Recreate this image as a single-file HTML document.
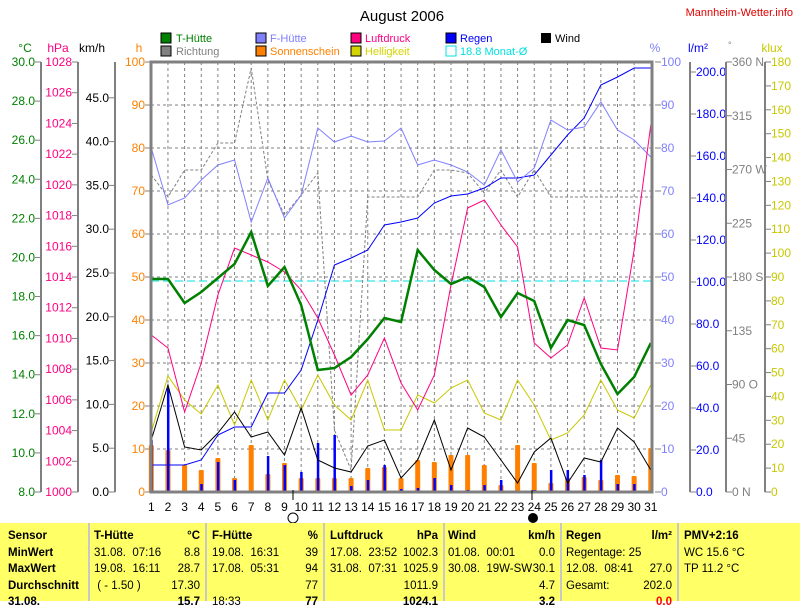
<!DOCTYPE html>
<html><head><meta charset="utf-8"><style>
body{margin:0;background:#fff;width:800px;height:601px;overflow:hidden;font-family:"Liberation Sans",sans-serif}
svg{position:absolute;left:0;top:0}
.tb{position:absolute;left:0;top:523px;width:800px;height:78px;background:#ffff66;font-size:11.5px}
.c{position:absolute;top:0;height:78px;border-left:2px solid #c8c8c8}
.r{position:absolute;white-space:nowrap}
</style></head><body>
<svg width="800" height="523" font-family="Liberation Sans, sans-serif" font-size="12">
<text x="402" y="21" font-size="15" text-anchor="middle">August 2006</text>
<text x="793" y="16" fill="#e00000" text-anchor="end" font-size="11">Mannheim-Wetter.info</text>
<g font-size="11">
<rect x="161" y="33" width="10" height="10" fill="#008000" stroke="#000"/><text x="176" y="42" fill="#008000">T-Hütte</text>
<rect x="161" y="46" width="10" height="10" fill="#808080" stroke="#000"/><text x="176" y="55" fill="#808080">Richtung</text>
<rect x="256" y="33" width="10" height="10" fill="#8080ff" stroke="#000"/><text x="270" y="42" fill="#8080ff">F-Hütte</text>
<rect x="256" y="46" width="10" height="10" fill="#ff8000" stroke="#000"/><text x="270" y="55" fill="#ff8000">Sonnenschein</text>
<rect x="351" y="33" width="10" height="10" fill="#ff0080" stroke="#000"/><text x="365" y="42" fill="#ff0080">Luftdruck</text>
<rect x="351" y="46" width="10" height="10" fill="#d4d400" stroke="#000"/><text x="365" y="55" fill="#d4d400">Helligkeit</text>
<rect x="446" y="33" width="10" height="10" fill="#0000ff" stroke="#000"/><text x="460" y="42" fill="#0000ff">Regen</text>
<rect x="446" y="46" width="10" height="10" fill="none" stroke="#00e0e0"/><text x="460" y="55" fill="#00e0e0">18.8 Monat-Ø</text>
<rect x="541" y="33" width="10" height="10" fill="#000"/><text x="555" y="42">Wind</text>
</g>
<text x="25" y="52" fill="#008000" text-anchor="middle">°C</text>
<text x="58" y="52" fill="#ff0080" text-anchor="middle">hPa</text>
<text x="92" y="52" text-anchor="middle">km/h</text>
<text x="139" y="52" fill="#ff8000" text-anchor="middle">h</text>
<text x="655" y="52" fill="#8080ff" text-anchor="middle">%</text>
<text x="698" y="52" fill="#0000ff" text-anchor="middle">l/m²</text>
<text x="728" y="48" fill="#808080" font-size="9">°</text>
<text x="772" y="52" fill="#c8c800" text-anchor="middle">klux</text>
<g id="ax"></g>
<g id="plot"></g>
</svg>
<div class="tb">
<div class="c" style="left:88px"></div><div class="c" style="left:205px"></div><div class="c" style="left:323px"></div><div class="c" style="left:443px"></div><div class="c" style="left:560px"></div><div class="c" style="left:677px"></div>
<div class="r" style="left:8px;top:5px;font-weight:bold;line-height:16.5px">Sensor<br>MinWert<br>MaxWert<br>Durchschnitt<br>31.08.</div>
<div class="r" style="left:94px;top:5px;line-height:16.5px"><b>T-Hütte</b><br>31.08.&nbsp; 07:16<br>19.08.&nbsp; 16:11<br>&nbsp;( - 1.50 )</div>
<div class="r" style="left:150px;top:5px;line-height:16.5px;text-align:right;width:50px"><b>°C</b><br>8.8<br>28.7<br>17.30<br><b>15.7</b></div>
<div class="r" style="left:212px;top:5px;line-height:16.5px"><b>F-Hütte</b><br>19.08.&nbsp; 16:31<br>17.08.&nbsp; 05:31<br><br>18:33</div>
<div class="r" style="left:270px;top:5px;line-height:16.5px;text-align:right;width:48px"><b>%</b><br>39<br>94<br>77<br><b>77</b></div>
<div class="r" style="left:330px;top:5px;line-height:16.5px"><b>Luftdruck</b><br>17.08.&nbsp; 23:52<br>31.08.&nbsp; 07:31</div>
<div class="r" style="left:390px;top:5px;line-height:16.5px;text-align:right;width:48px"><b>hPa</b><br>1002.3<br>1025.9<br>1011.9<br><b>1024.1</b></div>
<div class="r" style="left:448px;top:5px;line-height:16.5px"><b>Wind</b><br>01.08.&nbsp; 00:01<br>30.08.&nbsp; 19W-SW</div>
<div class="r" style="left:505px;top:5px;line-height:16.5px;text-align:right;width:50px"><b>km/h</b><br>0.0<br>30.1<br>4.7<br><b>3.2</b></div>
<div class="r" style="left:566px;top:5px;line-height:16.5px"><b>Regen</b><br>Regentage: 25<br>12.08.&nbsp; 08:41<br>Gesamt:</div>
<div class="r" style="left:620px;top:5px;line-height:16.5px;text-align:right;width:52px"><b>l/m²</b><br><br>27.0<br>202.0<br><b style="color:red">0.0</b></div>
<div class="r" style="left:684px;top:5px;line-height:16.5px"><b>PMV+2:16</b><br>WC 15.6 °C<br>TP 11.2 °C</div>
</div>
<script>
const NS="http://www.w3.org/2000/svg";
function el(p,t,a,txt){const e=document.createElementNS(NS,t);for(const k in a)e.setAttribute(k,a[k]);if(txt!==undefined)e.textContent=txt;p.appendChild(e);return e}
const ax=document.getElementById('ax'),pl=document.getElementById('plot');
const T=62,B=492,X0=151.3,DX=16.65;
const X=d=>X0+(d-1)*DX;
for(let d=2;d<=30;d++)el(pl,'line',{x1:X(d),y1:T,x2:X(d),y2:B,stroke:'#808080','stroke-dasharray':'3,3'});
for(let i=1;i<10;i++){const y=B-i*43;el(pl,'line',{x1:151,y1:y,x2:652,y2:y,stroke:'#808080','stroke-dasharray':'3,3'})}
function axis(x,vals,fn,fmt,col,side,ext){el(ax,'line',{x1:x,y1:ext?ext[0]:T,x2:x,y2:ext?ext[1]:B,stroke:'#808080','stroke-width':2});
vals.forEach(v=>{const y=fn(v);el(ax,'line',{x1:side<0?x-6:x,y1:y,x2:side<0?x:x+6,y2:y,stroke:'#808080'});
el(ax,'text',{x:side<0?x-6:x+6,y:y+4,fill:col,'text-anchor':side<0?'end':'start','font-size':12},fmt(v))})}
const r=(a,b,s)=>{const o=[];for(let v=a;v<=b+1e-9;v+=s)o.push(v);return o};
axis(41,r(8,30,2),v=>B-(v-8)*430/22,v=>v.toFixed(1),'#008000',-1);
axis(78,r(1000,1028,2),v=>B-(v-1000)*430/28,v=>v,'#ff0080',-1);
axis(115,r(0,45,5),v=>B-v*8.76,v=>v.toFixed(1),'#000',-1);
axis(151,r(0,100,10),v=>B-v*4.3,v=>v,'#ff8000',-1);
axis(655,r(0,100,10),v=>B-v*4.3,v=>v,'#8080ff',1,[B,B]);
axis(690,r(0,200,20),v=>B-v*2.1,v=>v.toFixed(1),'#0000ff',1);
axis(726,r(0,360,45),v=>B-v*430/360,v=>({0:'0 N',90:'90 O',180:'180 S',270:'270 W',360:'360 N'}[v]||v),'#808080',1);
axis(765,r(0,180,10),v=>B-v*430/180,v=>v,'#c8c800',1);
const sun=[445,450,465,470,458,478,445,474,463,478,478,478,478,468,467,478,460,462,455,455,465,485,445,463,483,478,477,480,475,476,448];
sun.forEach((t,i)=>el(pl,'rect',{x:X(i+1)-2.5,y:t,width:5,height:B-t,fill:'#ff8000',rx:1}));
const rain={1:440,2:388,4:484,5:462,6:480,8:456,9:465,10:472,11:443,12:435,13:486,14:480,15:465,16:489,17:488,18:478,19:485,20:490,21:485,22:480,24:490,25:470,26:470,27:475,28:460,29:484,30:484};
for(const d in rain)el(pl,'rect',{x:X(+d)-1,y:rain[d],width:2.5,height:B-rain[d],fill:'#0000ff'});
function line(ys,col,w,dash){el(pl,'polyline',{points:ys.map((y,i)=>X(i+1)+','+y).join(' '),fill:'none',stroke:col,'stroke-width':w,'stroke-dasharray':dash||'none'})}
el(pl,'line',{x1:151,y1:281,x2:652,y2:281,stroke:'#00e0e0','stroke-dasharray':'8,4'});
line([175,197,170,170,143,143,68,180,215,195,173,430,470,197,197,197,197,170,170,173,193,170,197,170,197,197,197,197,197,197,197],'#808080',1,'3,2');
line([432,376,400,414,385,425,380,420,380,410,375,405,420,380,430,430,395,403,388,380,413,420,380,405,440,433,415,380,410,418,385],'#c8c800',1);
line([440,385,447,450,433,412,437,432,455,408,460,468,472,446,440,478,460,420,470,428,437,460,483,452,438,483,458,462,428,442,470],'#000',1);
line([465,465,465,460,435,427,427,393,393,370,320,265,258,250,225,222,218,203,196,194,188,178,178,175,155,135,118,85,77,68,68],'#0000ff',1);
line([148,205,198,180,165,160,222,178,218,195,128,142,136,142,141,128,165,160,165,172,185,150,182,168,120,130,127,102,130,140,157],'#8080ff',1);
line([335,348,412,363,295,248,255,262,272,290,318,355,395,375,338,383,410,375,285,208,200,225,247,343,358,345,298,348,350,250,125],'#ff0080',1);
line([279,279,303,292,278,264,232,286,267,305,370,368,357,339,318,322,250,270,284,277,287,317,293,301,348,320,325,364,394,377,343],'#008000',2.5);
el(pl,'rect',{x:151,y:62,width:501,height:430,fill:'none',stroke:'#808080','stroke-width':3});
for(let d=1;d<=31;d++)el(pl,'text',{x:X(d),y:511,'text-anchor':'middle','font-size':12},d);
el(pl,'line',{x1:293,y1:490,x2:293,y2:500,stroke:'#000'});el(pl,'line',{x1:532,y1:490,x2:532,y2:500,stroke:'#000'});
el(pl,'circle',{cx:293,cy:518,r:5,fill:'none',stroke:'#000'});el(pl,'circle',{cx:533,cy:518,r:5,fill:'#000'});
</script>
</body></html>
